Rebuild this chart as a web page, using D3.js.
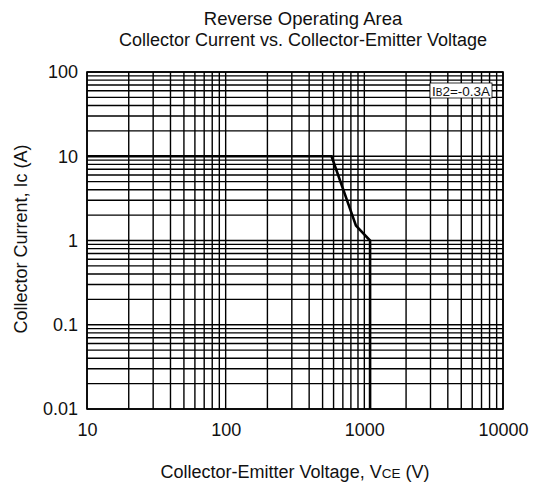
<!DOCTYPE html>
<html>
<head>
<meta charset="utf-8">
<script src="https://cdn.jsdelivr.net/npm/d3@7"></script>
<style>
  body { margin: 0; background: white; }
  text { font-family: "Liberation Sans", Arial, sans-serif; fill: #111; }
</style>
</head>
<body>
<svg></svg>
<script>
// curve
let vce = [10, 580, 870, 1100, 1100];
let ic = [10, 10, 1.5, 1, 0.01];

let xTicks = [10, 100, 1000, 10000];
let yTicks = [0.01, 0.1, 1, 10, 100];
let xTickLabels = ["10", "100", "1000", "10000"];
let yTickLabels = ["0.01", "0.1", "1", "10", "100"];

let width = 535;
let height = 489;

let paddings = {
    top: 72,
    right: 32,
    left: 87,
    bottom: 80
}

let svg = d3.select("svg")
            .attr("width", width)
            .attr("height", height);

let scaleX = d3.scaleLog()
               .domain([10, 10000])
               .range([paddings.left, width - paddings.right]);

let scaleY = d3.scaleLog()
               .domain([0.01, 100])
               .range([height - paddings.bottom, paddings.top]);

// grid, every 1..9 of each decade
let grid = svg.append("g").attr("id", "grid");

grid.selectAll(".vline")
    .data(scaleX.ticks())
    .enter()
    .append("line")
    .attr("class", "vline")
    .attr("x1", d => scaleX(d))
    .attr("x2", d => scaleX(d))
    .attr("y1", paddings.top)
    .attr("y2", height - paddings.bottom)
    .attr("stroke", "black")
    .attr("stroke-width", 1.4);

grid.selectAll(".hline")
    .data(scaleY.ticks())
    .enter()
    .append("line")
    .attr("class", "hline")
    .attr("x1", paddings.left)
    .attr("x2", width - paddings.right)
    .attr("y1", d => scaleY(d))
    .attr("y2", d => scaleY(d))
    .attr("stroke", "black")
    .attr("stroke-width", 1.4);

svg.append("rect")
   .attr("x", paddings.left)
   .attr("y", paddings.top)
   .attr("width", width - paddings.left - paddings.right)
   .attr("height", height - paddings.top - paddings.bottom)
   .attr("fill", "none")
   .attr("stroke", "black")
   .attr("stroke-width", 1.6);

// axes, only used for the labels
let xAxis = d3.axisBottom(scaleX)
              .tickValues(xTicks)
              .tickSize(0)
              .tickPadding(14)
              .tickFormat((d, i) => xTickLabels[i]);

svg.append("g")
   .attr("id", "x-axis")
   .attr("transform", `translate(0, ${height - paddings.bottom})`)
   .call(xAxis)
   .call(g => g.select(".domain").remove())
   .selectAll("text")
   .style("font-size", "18px")
   .attr("fill", "#111");

let yAxis = d3.axisLeft(scaleY)
              .tickValues(yTicks)
              .tickSize(0)
              .tickPadding(9)
              .tickFormat((d, i) => yTickLabels[i]);

svg.append("g")
   .attr("id", "y-axis")
   .attr("transform", `translate(${paddings.left}, 0)`)
   .call(yAxis)
   .call(g => g.select(".domain").remove())
   .selectAll("text")
   .style("font-size", "18px")
   .attr("fill", "#111");

// the curve
let line = d3.line()
             .x((d, i) => scaleX(vce[i]))
             .y((d, i) => scaleY(ic[i]));

svg.append("path")
   .datum(vce)
   .attr("d", line)
   .attr("fill", "none")
   .attr("stroke", "black")
   .attr("stroke-width", 2.6);

// legend box
let legend = svg.append("g").attr("id", "legend");
legend.append("rect")
      .attr("x", 430)
      .attr("y", 83)
      .attr("width", 62)
      .attr("height", 15)
      .attr("fill", "white")
      .attr("stroke", "black")
      .attr("stroke-width", 0.8);
let lt = legend.append("text")
      .attr("x", 432)
      .attr("y", 95.5)
      .style("font-size", "13.5px");
lt.append("tspan").text("I");
lt.append("tspan").style("font-size", "10px").text("B");
lt.append("tspan").text("2=-0.3A");

// titles
svg.append("text")
   .attr("x", 303)
   .attr("y", 25)
   .attr("text-anchor", "middle")
   .style("font-size", "18.5px")
   .text("Reverse Operating Area");

svg.append("text")
   .attr("x", 303)
   .attr("y", 46)
   .attr("text-anchor", "middle")
   .style("font-size", "18px")
   .text("Collector Current vs. Collector-Emitter Voltage");

let xl = svg.append("text")
   .attr("x", 295)
   .attr("y", 478)
   .attr("text-anchor", "middle")
   .style("font-size", "18px");
xl.append("tspan").text("Collector-Emitter Voltage, V");
xl.append("tspan").style("font-size", "13.5px").text("CE");
xl.append("tspan").text(" (V)");

svg.append("text")
   .attr("transform", `translate(27, 239) rotate(-90)`)
   .attr("text-anchor", "middle")
   .style("font-size", "18px")
   .text("Collector Current, Ic (A)");
</script>
</body>
</html>
